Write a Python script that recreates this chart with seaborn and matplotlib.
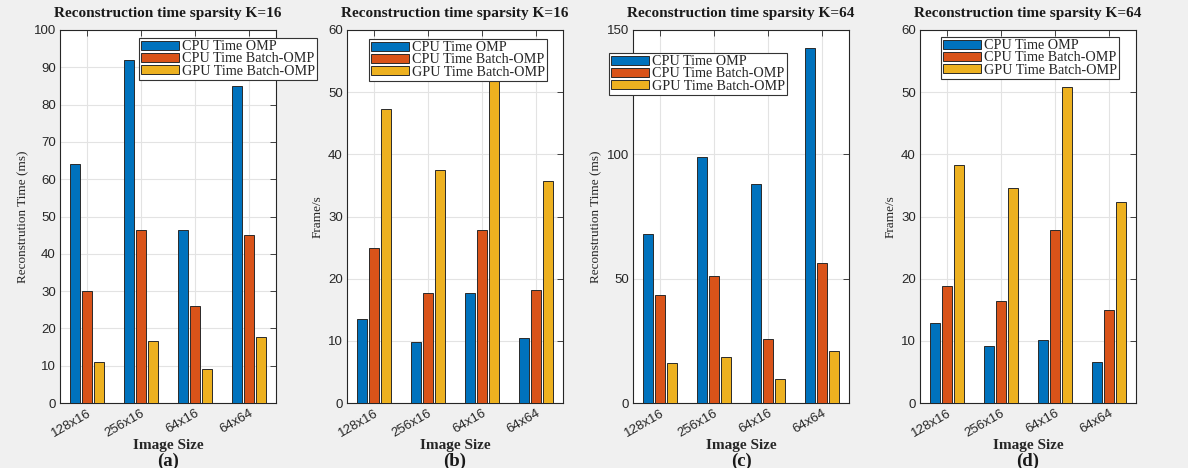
import matplotlib
matplotlib.use('Agg')
import matplotlib.pyplot as plt
import pandas as pd
import seaborn as sns

sizes = ['128x16', '256x16', '64x16', '64x64']
methods = ['CPU Time OMP', 'CPU Time Batch-OMP', 'GPU Time Batch-OMP']
colors = ['#0072BD', '#D95319', '#EDB120']

# (a) reconstruction time, K=16
time_k16_omp = [64.2, 91.9, 46.5, 84.9]
time_k16_batch = [29.9, 46.3, 26.0, 45.0]
time_k16_gpu = [11.0, 16.6, 9.2, 17.8]

# (b) frame rate, K=16
fps_k16_omp = [13.45, 9.75, 17.7, 10.5]
fps_k16_batch = [25.0, 17.7, 27.75, 18.1]
fps_k16_gpu = [47.35, 37.45, 51.85, 35.7]

# (c) reconstruction time, K=64
time_k64_omp = [67.9, 99.1, 88.0, 142.6]
time_k64_batch = [43.5, 51.0, 25.8, 56.1]
time_k64_gpu = [15.9, 18.6, 9.5, 20.9]

# (d) frame rate, K=64
fps_k64_omp = [12.8, 9.1, 10.1, 6.6]
fps_k64_batch = [18.75, 16.4, 27.85, 15.0]
fps_k64_gpu = [38.35, 34.65, 50.9, 32.35]

panels = [
    ('Reconstruction time sparsity K=16', 'Reconstrution Time (ms)', '(a)',
     [time_k16_omp, time_k16_batch, time_k16_gpu], (0, 100), list(range(0, 101, 10))),
    ('Reconstruction time sparsity K=16', 'Frame/s', '(b)',
     [fps_k16_omp, fps_k16_batch, fps_k16_gpu], (0, 60), list(range(0, 61, 10))),
    ('Reconstruction time sparsity K=64', 'Reconstrution Time (ms)', '(c)',
     [time_k64_omp, time_k64_batch, time_k64_gpu], (0, 150), [0, 50, 100, 150]),
    ('Reconstruction time sparsity K=64', 'Frame/s', '(d)',
     [fps_k64_omp, fps_k64_batch, fps_k64_gpu], (0, 60), list(range(0, 61, 10))),
]

W, H = 1188, 468
ax_left = [60, 347, 633, 920]
ax_w, ax_top, ax_bot = 216, 30, 403
legend_anchor = [(139, 38), (369, 39), (609, 53), (941, 37)]

sns.set_style('white')
serif = ['Liberation Serif', 'DejaVu Serif']
sans = ['Liberation Sans', 'DejaVu Sans']

fig = plt.figure(figsize=(W / 100, H / 100), dpi=100, facecolor='#f0f0f0')

for i, (title, ylabel, tag, series, ylim, yticks) in enumerate(panels):
    rows = []
    for m, vals in zip(methods, series):
        for s, v in zip(sizes, vals):
            rows.append({'size': s, 'method': m, 'value': v})
    df = pd.DataFrame(rows)

    ax = fig.add_axes([ax_left[i] / W, (H - ax_bot) / H, ax_w / W, (ax_bot - ax_top) / H])
    ax.set_facecolor('white')
    sns.barplot(data=df, x='size', y='value', hue='method', hue_order=methods,
                palette=colors, saturation=1, width=0.66, gap=0.14, edgecolor='#2a2a2a',
                linewidth=0.7, ax=ax, zorder=3, legend=True)
    ax.set_xlim(-0.5, 3.5)
    ax.set_ylim(*ylim)
    ax.set_yticks(yticks)
    ax.grid(True, color='#e3e3e3', linewidth=0.8, zorder=0)
    ax.set_axisbelow(True)
    for sp in ax.spines.values():
        sp.set_color('#262626')
        sp.set_linewidth(0.8)
    ax.tick_params(direction='in', top=True, right=True, length=4, width=0.6,
                   colors='#262626', labelcolor='#262626', labelsize=9.5, pad=3)
    for lab in ax.get_xticklabels():
        lab.set_rotation(30)
        lab.set_ha('right')
        lab.set_rotation_mode('anchor')
        lab.set_family(sans)
    for lab in ax.get_yticklabels():
        lab.set_family(sans)
    ax.set_xlabel('')
    ax.set_ylabel(ylabel, family=serif, fontsize=9.5, color='#262626', labelpad=3)

    handles, labels = ax.get_legend_handles_labels()
    ax.get_legend().remove()
    lx, ly = legend_anchor[i]
    leg = fig.legend(handles, labels, loc='upper left', bbox_to_anchor=(lx / W, 1 - ly / H),
                     bbox_transform=fig.transFigure, borderaxespad=0, fancybox=False,
                     framealpha=1, edgecolor='#333333', handlelength=2.7, handleheight=0.6,
                     labelspacing=-0.05, handletextpad=0.2, borderpad=0.15,
                     prop={'family': serif, 'size': 10.2})
    leg.get_frame().set_linewidth(0.8)

    cx = (ax_left[i] + ax_w / 2) / W
    fig.text(cx, 1 - 13 / H, title, ha='center', va='center', family=serif,
             fontsize=11, fontweight='bold', color='#1a1a1a')
    fig.text(cx, 1 - 445 / H, 'Image Size', ha='center', va='center', family=serif,
             fontsize=11, fontweight='bold', color='#262626')
    fig.text(cx, 1 - 461 / H, tag, ha='center', va='center', family=serif,
             fontsize=13.5, fontweight='bold', color='#1a1a1a')

fig.savefig('out.png', dpi=100, facecolor=fig.get_facecolor())
